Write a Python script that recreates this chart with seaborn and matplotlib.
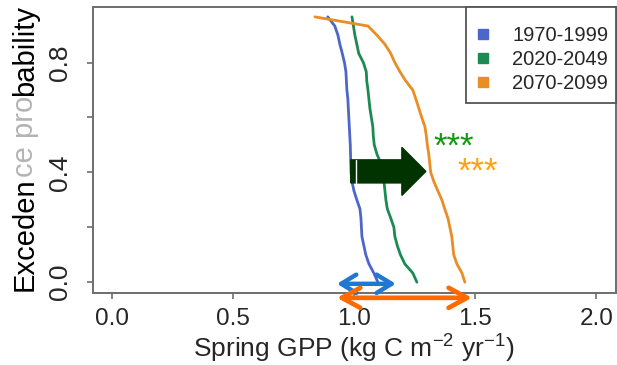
import numpy as np
import pandas as pd
import matplotlib
matplotlib.use("Agg")
import matplotlib.pyplot as plt
from matplotlib.lines import Line2D
from matplotlib.patches import Rectangle
import seaborn as sns

# ---- data (spring GPP, kg C m-2 yr-1, 30 years per period) ----
periods = ["1970-1999", "2020-2049", "2070-2099"]
gpp_1970_1999 = [0.891, 0.920, 0.933, 0.941, 0.951, 0.960, 0.966, 0.968, 0.970, 0.974,
                 0.976, 0.978, 0.980, 0.982, 0.984, 0.985, 0.986, 0.987, 0.991, 0.999,
                 1.011, 1.024, 1.028, 1.030, 1.032, 1.040, 1.048, 1.061, 1.081, 1.098]
gpp_2020_2049 = [0.991, 0.997, 1.003, 1.011, 1.019, 1.038, 1.050, 1.052, 1.057, 1.061,
                 1.065, 1.071, 1.077, 1.079, 1.083, 1.094, 1.110, 1.118, 1.123, 1.127,
                 1.131, 1.137, 1.151, 1.164, 1.168, 1.178, 1.191, 1.209, 1.242, 1.259]
gpp_2070_2099 = [0.838, 1.057, 1.094, 1.127, 1.151, 1.168, 1.189, 1.213, 1.242, 1.255,
                 1.267, 1.279, 1.292, 1.298, 1.302, 1.308, 1.312, 1.316, 1.329, 1.345,
                 1.362, 1.374, 1.387, 1.395, 1.403, 1.407, 1.411, 1.424, 1.445, 1.457]
xticks = [0.0, 0.5, 1.0, 1.5, 2.0]
xtick_labels = ["0.0", "0.5", "1.0", "1.5", "2.0"]
yticks = [0.0, 0.2, 0.4, 0.6, 0.8]
ytick_labels = ["0.0", "", "0.4", "", "0.8"]
colors = ["#4c66c9", "#1c8a52", "#e98d25"]

def exceedance(vals):
    v = np.asarray(vals)
    n = len(v)
    rank = np.argsort(np.argsort(v))
    return (n - 1 - rank) / n

frames = []
for name, vals in zip(periods, [gpp_1970_1999, gpp_2020_2049, gpp_2070_2099]):
    frames.append(pd.DataFrame({"gpp": vals, "prob": exceedance(vals), "period": name}))
df = pd.concat(frames, ignore_index=True)

sns.set_theme(style="white")
plt.rcParams["font.family"] = ["Liberation Sans", "DejaVu Sans"]
plt.rcParams["mathtext.fontset"] = "custom"
plt.rcParams["mathtext.rm"] = "Liberation Sans"

fig = plt.figure(figsize=(6.17, 3.65), dpi=100)
ax = fig.add_axes([0.150, 0.198, 0.848, 0.782])

sns.lineplot(data=df, x="gpp", y="prob", hue="period", palette=colors,
             sort=True, orient="y", lw=2.0, ax=ax, legend=False)

ax.set_xlim(-0.08, 2.08)
ax.set_ylim(-0.0385, 1.0015)
ax.set_xticks(xticks)
ax.set_xticklabels(xtick_labels, fontsize=17.5)
ax.set_yticks(yticks)
ax.set_yticklabels(ytick_labels, fontsize=19, rotation=90, va="center", ha="right")
ax.tick_params(axis="both", direction="out", length=4, width=1.2, color="#6e6e6e",
               left=True, bottom=True)
ax.tick_params(axis="x", pad=7)
ax.tick_params(axis="y", pad=11)
for s in ax.spines.values():
    s.set_color("#6e6e6e")
    s.set_linewidth(1.4)

ax.set_xlabel(r"Spring GPP (kg C m$^{-2}$ yr$^{-1}$)", fontsize=19, labelpad=1)
ax.set_ylabel("")

# y label with a faded middle part
t1 = fig.text(0.040, 0.203, "Exceden", rotation=90, ha="center", va="bottom",
              fontsize=21, color="black")
t2 = ax.annotate("ce pro", xy=(0.5, 1), xycoords=t1, rotation=90, ha="center",
                 va="bottom", fontsize=21, color="#b4b4b4", annotation_clip=False)
t3 = ax.annotate("bability", xy=(0.5, 1), xycoords=t2, rotation=90, ha="center",
                 va="bottom", fontsize=21, color="black", annotation_clip=False)

# legend (box drawn separately)
ax.add_patch(Rectangle((0.714, 0.665), 0.286, 0.335, transform=ax.transAxes,
                       facecolor="white", edgecolor="#555555", lw=1.3, zorder=8,
                       clip_on=False))
handles = [Line2D([], [], marker="s", ls="", color=c, markersize=7) for c in colors]
leg = ax.legend(handles, periods, loc="upper left", bbox_to_anchor=(0.731, 0.934),
                borderaxespad=0, fontsize=14.5, frameon=False, handletextpad=1.05,
                labelspacing=0.25, borderpad=0, handlelength=0.8)
leg.set_zorder(9)

# big shift arrow
ax.arrow(0.986, 0.4036, 0.310, 0.0, width=0.084, head_width=0.175, head_length=0.099,
         length_includes_head=True, color="#003300", zorder=5)
ax.plot([1.006, 1.006], [0.362, 0.445], color="white", lw=1.0, zorder=6)

# significance stars
ax.text(1.329, 0.492, "***", color="#129a12", fontsize=25, ha="left", va="center")
ax.text(1.428, 0.401, "***", color="#ffa114", fontsize=25, ha="left", va="center")

# range arrows
ax.annotate("", xy=(1.172, -0.006), xytext=(0.929, -0.006),
            arrowprops=dict(arrowstyle="<->,head_length=0.9,head_width=0.55",
                            lw=3.2, color="#1f78d1", shrinkA=0, shrinkB=0),
            annotation_clip=False)
ax.annotate("", xy=(1.486, -0.057), xytext=(0.929, -0.057),
            arrowprops=dict(arrowstyle="<->,head_length=1.1,head_width=0.6",
                            lw=3.4, color="#ff6a00", shrinkA=0, shrinkB=0),
            annotation_clip=False)

fig.savefig("out.png", dpi=100)
